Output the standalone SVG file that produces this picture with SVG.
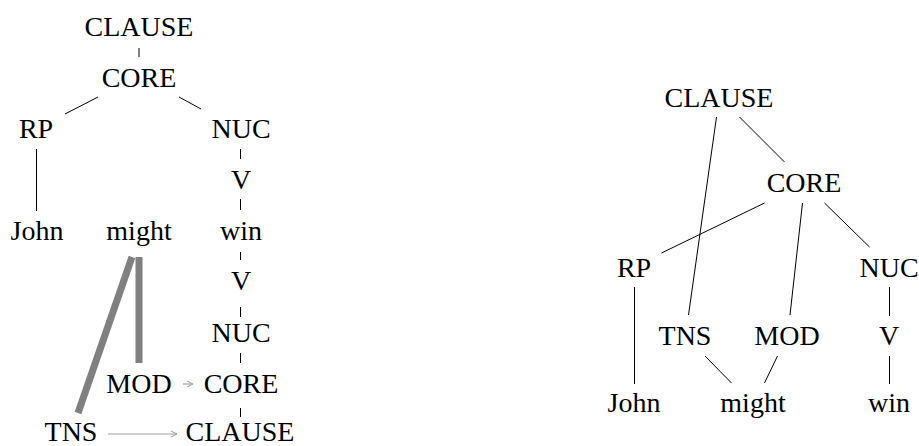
<svg xmlns="http://www.w3.org/2000/svg" width="919" height="446" viewBox="0 0 919 446">
  <defs>
    <marker id="chev" markerWidth="8" markerHeight="8" refX="7" refY="4" orient="auto" markerUnits="userSpaceOnUse">
      <path d="M1,1 L7,4 L1,7" fill="none" stroke="#a0a0a0" stroke-width="1"/>
    </marker>
  </defs>
  <style>
    .lbl { font-family: 'Liberation Serif', 'Times New Roman', serif; font-size: 28px; fill: #000; text-anchor: middle; }
    .edge { stroke: #000; stroke-width: 1; fill: none; }
    .bond { stroke: #808080; stroke-width: 7; fill: none; }
    .arrow { stroke: #a0a0a0; stroke-width: 1.2; fill: none; marker-end: url(#chev); }
  </style>
  <rect width="919" height="446" fill="#fff"/>

  <!-- left tree: connectors -->
  <g id="left-connectors">
    <line class="edge" x1="139" y1="48" x2="139" y2="57"/>
    <line class="edge" x1="98" y1="97" x2="65" y2="114"/>
    <line class="edge" x1="179" y1="97" x2="201" y2="109"/>
    <line class="edge" x1="36.5" y1="149" x2="36.5" y2="211"/>
    <line class="edge" x1="240.5" y1="149" x2="240.5" y2="159"/>
    <line class="edge" x1="240.5" y1="199" x2="240.5" y2="210"/>
    <line class="edge" x1="240.5" y1="252" x2="240.5" y2="260"/>
    <line class="edge" x1="240.5" y1="307" x2="240.5" y2="317"/>
    <line class="edge" x1="240.5" y1="353" x2="240.5" y2="363"/>
    <line class="edge" x1="240.5" y1="408" x2="240.5" y2="417"/>
    <line class="bond" x1="139" y1="257" x2="139" y2="363"/>
    <line class="bond" x1="132" y1="257" x2="78" y2="413"/>
    <line class="arrow" x1="183" y1="384" x2="193" y2="384"/>
    <line class="arrow" x1="108" y1="434" x2="177" y2="434"/>
  </g>

  <!-- left tree: nodes -->
  <g class="lbl" font-family="Liberation Serif, serif">
    <g id="l-clause-top"><text x="139" y="36">CLAUSE</text></g>
    <g id="l-core-top"><text x="139" y="87">CORE</text></g>
    <g id="l-rp"><text x="36" y="138">RP</text></g>
    <g id="l-nuc-top"><text x="241" y="138">NUC</text></g>
    <g id="l-v-top"><text x="241" y="189">V</text></g>
    <g id="l-john"><text x="37" y="240">John</text></g>
    <g id="l-might"><text x="139" y="240">might</text></g>
    <g id="l-win"><text x="241" y="240">win</text></g>
    <g id="l-v-bottom"><text x="241" y="290">V</text></g>
    <g id="l-nuc-bottom"><text x="241" y="342">NUC</text></g>
    <g id="l-mod"><text x="139" y="393">MOD</text></g>
    <g id="l-core-bottom"><text x="241" y="393">CORE</text></g>
    <g id="l-tns"><text x="71" y="441">TNS</text></g>
    <g id="l-clause-bottom"><text x="240" y="441">CLAUSE</text></g>
  </g>

  <!-- right tree: connectors -->
  <g id="right-connectors">
    <line class="edge" x1="716.5" y1="117" x2="688.5" y2="315"/>
    <line class="edge" x1="739.5" y1="117" x2="784.5" y2="162"/>
    <line class="edge" x1="764.5" y1="203" x2="661.5" y2="253"/>
    <line class="edge" x1="802.5" y1="203" x2="790" y2="315"/>
    <line class="edge" x1="824.5" y1="203" x2="869.5" y2="247"/>
    <line class="edge" x1="634.5" y1="287" x2="634.5" y2="384"/>
    <line class="edge" x1="889.5" y1="287" x2="889.5" y2="316"/>
    <line class="edge" x1="889.5" y1="356" x2="889.5" y2="384"/>
    <line class="edge" x1="705" y1="356" x2="731.5" y2="383"/>
    <line class="edge" x1="777.5" y1="356" x2="764.5" y2="383"/>
  </g>

  <!-- right tree: nodes -->
  <g class="lbl" font-family="Liberation Serif, serif">
    <g id="r-clause"><text x="719" y="107">CLAUSE</text></g>
    <g id="r-core"><text x="804" y="192">CORE</text></g>
    <g id="r-rp"><text x="634" y="277">RP</text></g>
    <g id="r-nuc"><text x="889" y="277">NUC</text></g>
    <g id="r-tns"><text x="685" y="345">TNS</text></g>
    <g id="r-mod"><text x="787" y="345">MOD</text></g>
    <g id="r-v"><text x="889" y="345">V</text></g>
    <g id="r-john"><text x="634" y="412">John</text></g>
    <g id="r-might"><text x="753" y="412">might</text></g>
    <g id="r-win"><text x="889" y="412">win</text></g>
  </g>
</svg>
